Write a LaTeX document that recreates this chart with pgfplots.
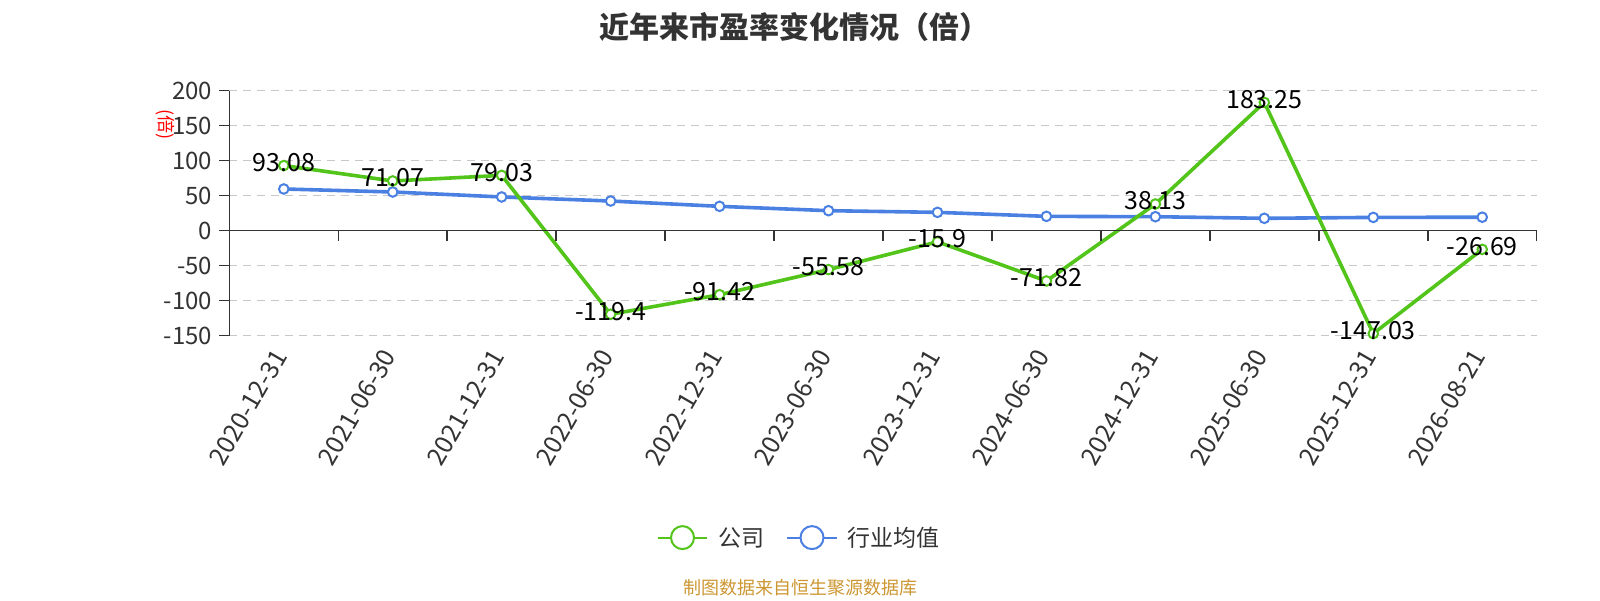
\documentclass[border=0pt]{standalone}
\usepackage{pgfplots}
\pgfplotsset{compat=1.18}
\usepackage{pgfplotstable}
\usepackage{fontspec}
\setmainfont{Noto Sans CJK SC}
\definecolor{cgreen}{RGB}{82,196,26}
\definecolor{cblue}{RGB}{74,128,226}
\definecolor{textgray}{RGB}{51,51,51}
\definecolor{gridgray}{RGB}{200,200,200}
\definecolor{footgold}{RGB}{204,150,50}

\pgfplotstableread{
x y label
0 93.08 93.08
1 71.07 71.07
2 79.03 79.03
3 -119.4 -119.4
4 -91.42 -91.42
5 -55.58 -55.58
6 -15.9 -15.9
7 -71.82 -71.82
8 38.13 38.13
9 183.25 183.25
10 -147.03 -147.03
11 -26.69 -26.69
}\company

\pgfplotstableread{
x y
0 59.6
1 55.3
2 48.2
3 42.4
4 34.8
5 28.6
6 26.2
7 20.5
8 20.0
9 17.7
10 19.0
11 19.3
}\industry

\begin{document}
\begin{tikzpicture}
\useasboundingbox (0,0) rectangle (800pt,300pt);
\begin{axis}[
  at={(114.65pt,132.15pt)}, anchor=south west,
  scale only axis, width=653.7pt, height=122.5pt,
  xmin=-0.5, xmax=11.5, ymin=-150, ymax=200,
  enlargelimits=false, clip=false,
  axis y line=left, axis x line=bottom,
  axis line style={-, textgray, line width=0.75pt},
  x axis line style={draw=none},
  xtick={0,...,11},
  xticklabels={2020-12-31,2021-06-30,2021-12-31,2022-06-30,2022-12-31,2023-06-30,2023-12-31,2024-06-30,2024-12-31,2025-06-30,2025-12-31,2026-08-21},
  xtick style={draw=none},
  xticklabel style={rotate=60, anchor=east, font=\fontsize{12.5}{13}\selectfont, text=textgray},
  ytick={-150,-100,...,200},
  ytick style={textgray, line width=0.75pt},
  tick align=outside, major tick length=5pt,
  yticklabel style={font=\fontsize{12}{12}\selectfont, text=textgray},
  /pgf/number format/assume math mode=true,
  ymajorgrids,
  grid style={gridgray, line width=0.7pt, dash pattern=on 4pt off 3pt},
]
\addplot[cblue, line width=1.8pt, mark=*, mark size=2.4pt,
  mark options={fill=white, draw=cblue, line width=1pt}] table[x=x,y=y] {\industry};
\addplot[cgreen, line width=1.8pt, mark=*, mark size=2.4pt,
  mark options={fill=white, draw=cgreen, line width=1pt},
  point meta=explicit symbolic, nodes near coords,
  nodes near coords style={anchor=center, yshift=1.5pt, text=black, font=\fontsize{12.5}{13}\selectfont}]
  table[x=x,y=y,meta=label] {\company};
\draw[textgray, line width=0.75pt] (axis cs:-0.5,0) -- (axis cs:11.5,0);
\pgfplotsinvokeforeach{0.5,1.5,2.5,3.5,4.5,5.5,6.5,7.5,8.5,9.5,10.5,11.5}{
  \draw[textgray, line width=0.75pt] (axis cs:#1,0) -- ([yshift=-5pt]axis cs:#1,0);
}
\end{axis}
% title
\node[font=\bfseries\fontsize{15}{16}\selectfont, text=textgray] at (397pt,286.5pt) {近年来市盈率变化情况（倍）};
% y unit
\node[rotate=-90, text=red, font=\fontsize{9}{9}\selectfont, inner sep=0] at (82.5pt,237.5pt) {(倍)};
% legend
\draw[cgreen, line width=1pt] (329pt,31.2pt) -- (353.5pt,31.2pt);
\draw[cgreen, line width=1pt, fill=white] (341.25pt,31.2pt) circle (5.75pt);
\node[anchor=west, inner sep=0, text=textgray, font=\fontsize{11.5}{12}\selectfont] at (359pt,31.2pt) {公司};
\draw[cblue, line width=1pt] (393.5pt,31.2pt) -- (418.5pt,31.2pt);
\draw[cblue, line width=1pt, fill=white] (406pt,31.2pt) circle (5.75pt);
\node[anchor=west, inner sep=0, text=textgray, font=\fontsize{11.5}{12}\selectfont] at (423.5pt,31.2pt) {行业均值};
% footer
\node[text=footgold, font=\fontsize{9}{10}\selectfont] at (400pt,5.9pt) {制图数据来自恒生聚源数据库};
\end{tikzpicture}
\end{document}
